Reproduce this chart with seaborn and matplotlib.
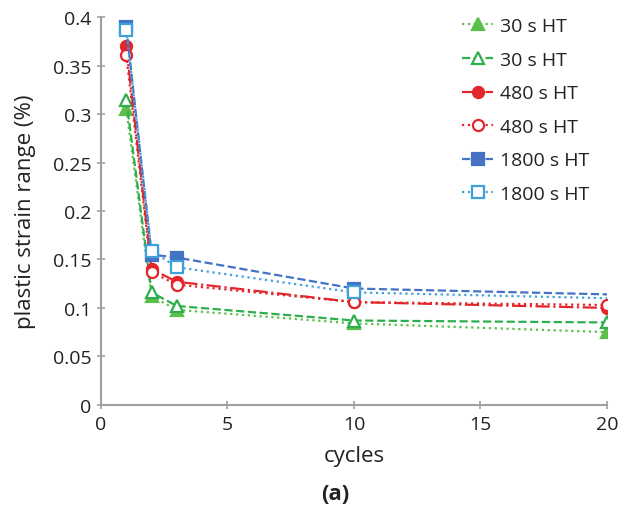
import matplotlib
matplotlib.use('Agg')
import matplotlib.pyplot as plt
import seaborn as sns
import numpy as np

cycles = [1, 2, 3, 10, 20]
labels = ['30 s HT', '30 s HT', '480 s HT', '480 s HT', '1800 s HT', '1800 s HT']
ht30_a = [0.305, 0.112, 0.098, 0.084, 0.075]
ht30_b = [0.315, 0.116, 0.102, 0.087, 0.085]
ht480_a = [0.370, 0.140, 0.127, 0.106, 0.100]
ht480_b = [0.361, 0.137, 0.124, 0.106, 0.103]
ht1800_a = [0.390, 0.155, 0.152, 0.120, 0.114]
ht1800_b = [0.387, 0.159, 0.142, 0.116, 0.110]

sns.set_style('white')
plt.rcParams['font.family'] = ['Open Sans', 'DejaVu Sans']
txt = '#222222'

fig = plt.figure(figsize=(6.27, 5.06), dpi=100)
ax = fig.add_axes([0.161, 0.198, 0.807, 0.766])

# (values, color, linestyle, marker, filled, markevery)
styles = [
    (ht30_a, '#5cbf4a', ':', '^', True, None),
    (ht30_b, '#2fae4e', '--', '^', False, None),
    (ht480_a, '#e3262b', '-.', 'o', True, None),
    (ht480_b, '#e3262b', ':', 'o', False, None),
    (ht1800_a, '#4472c4', '--', 's', True, [0, 1, 2, 3]),
    (ht1800_b, '#3fa0dc', ':', 's', False, [0, 1, 2, 3]),
]

for (vals, col, ls, mk, filled, mev), lab in zip(styles, labels):
    sns.lineplot(x=cycles, y=vals, ax=ax, color=col, linestyle=ls, linewidth=1.6,
                 marker=mk, markersize=8, markeredgewidth=1.6, markevery=mev,
                 markerfacecolor=col if filled else 'white', markeredgecolor=col,
                 label=lab)

ax.set_xlim(0, 20)
ax.set_ylim(0, 0.4)
ax.set_xticks([0, 5, 10, 15, 20])
ax.set_yticks(np.arange(0, 0.41, 0.05))
ax.set_yticklabels(['0', '0.05', '0.1', '0.15', '0.2', '0.25', '0.3', '0.35', '0.4'])
ax.tick_params(axis='both', labelsize=14, length=6, width=1.2, color='#a0a0a0',
               direction='inout', labelcolor=txt)
ax.tick_params(axis='x', bottom=True, pad=4)
ax.tick_params(axis='y', left=True, pad=4)
for s in ['top', 'right']:
    ax.spines[s].set_visible(False)
for s in ['left', 'bottom']:
    ax.spines[s].set_color('#a0a0a0')
    ax.spines[s].set_linewidth(1.5)

ax.set_xlabel('cycles', fontsize=16, labelpad=9, color=txt)
ax.set_ylabel('plastic strain range (%)', fontsize=16, color=txt, labelpad=12)
fig.text(0.535, 0.012, '(a)', fontsize=16, fontweight='bold', ha='center', color=txt)

leg = ax.legend(loc='upper right', bbox_to_anchor=(1.0, 1.045), frameon=False, fontsize=14,
                handlelength=1.6, labelspacing=0.8, handletextpad=0.35)
for t in leg.get_texts():
    t.set_color(txt)

fig.savefig('out.png', dpi=100)
